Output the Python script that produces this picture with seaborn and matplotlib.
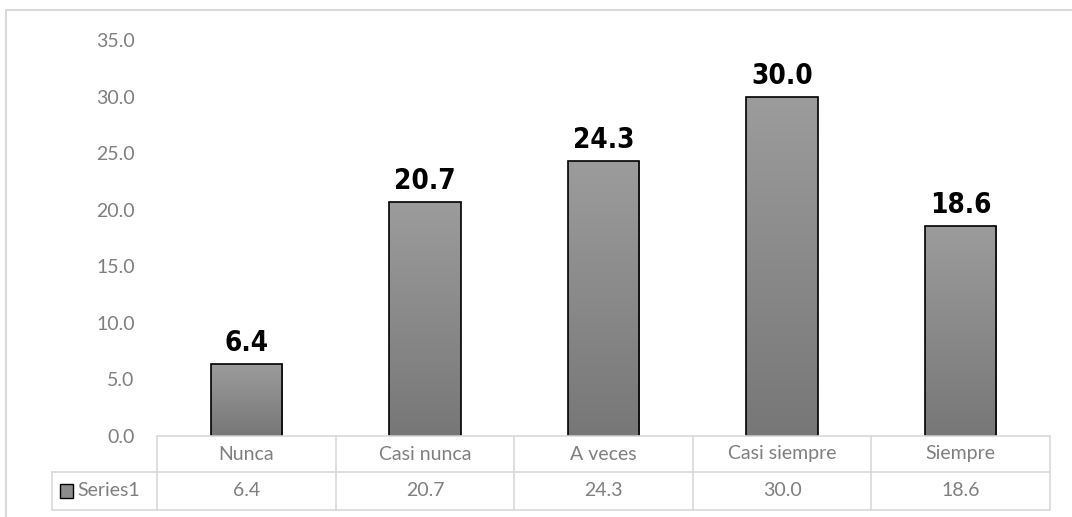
import numpy as np
import pandas as pd
import matplotlib.pyplot as plt
import seaborn as sns
from matplotlib.lines import Line2D

# data
categories = ["Nunca", "Casi nunca", "A veces", "Casi siempre", "Siempre"]
values = [6.4, 20.7, 24.3, 30.0, 18.6]
series_name = "Series1"
yticks = [0, 5, 10, 15, 20, 25, 30, 35]

df = pd.DataFrame({"cat": categories, "val": values})

sns.set_style("white")
plt.rcParams["font.family"] = ["Lato", "DejaVu Sans"]

fig = plt.figure(figsize=(10.72, 5.17), dpi=100)
ax = fig.add_axes([157 / 1072, 1 - 436 / 517, (1050 - 157) / 1072, (436 - 40) / 517])

sns.barplot(data=df, x="cat", y="val", color="#8c8c8c", width=0.40,
            edgecolor="black", linewidth=1.2, saturation=1, ax=ax)

# vertical gradient inside each bar, like the excel fill
grad = np.linspace(0, 1, 256).reshape(-1, 1)
cmap = plt.matplotlib.colors.LinearSegmentedColormap.from_list("g", ["#777777", "#9c9c9c"])
for p in ax.patches:
    x0, y0 = p.get_x(), p.get_y()
    w, h = p.get_width(), p.get_height()
    im = ax.imshow(grad, extent=[x0, x0 + w, y0, y0 + h], origin="lower",
                   cmap=cmap, aspect="auto", zorder=p.get_zorder() + 0.1)
    im.set_clip_path(p)
    p.set_facecolor("none")
    p.set_zorder(p.get_zorder() + 0.2)

ax.set_xlim(-0.5, len(categories) - 0.5)
ax.set_ylim(0, 35)
ax.set_yticks(yticks)
ax.set_yticklabels([f"{t:.1f}" for t in yticks], color="#7f7f7f", fontsize=14)
ax.tick_params(axis="y", length=0, pad=16)
ax.set_xticks([])
ax.set_xlabel("")
ax.set_ylabel("")
for s in ax.spines.values():
    s.set_visible(False)

# value labels (narrow bold, like Arial Narrow)
for i, v in enumerate(values):
    ax.annotate(f"{v:.1f}", (i, v), xytext=(0, 5), textcoords="offset points",
                ha="center", va="bottom", fontsize=20, fontweight="bold",
                fontstretch="condensed", family="DejaVu Sans", color="black")

# data table below the axis
trans = ax.get_xaxis_transform()
row1 = -(472 - 436) / 396
row2 = -(510 - 436) / 396
lc = "#d9d9d9"
n = len(categories)
ax.add_line(Line2D([-0.5, n - 0.5], [0, 0], transform=trans, color=lc, lw=1.2, clip_on=False))
left_col = -0.5 - (157 - 52) / 178.6
for yy in (row1, row2):
    ax.add_line(Line2D([left_col, n - 0.5], [yy, yy], transform=trans, color=lc, lw=1.2, clip_on=False))
for k in range(n + 1):
    ax.add_line(Line2D([k - 0.5, k - 0.5], [0, row2], transform=trans, color=lc, lw=1.2, clip_on=False))
ax.add_line(Line2D([left_col, left_col], [row1, row2], transform=trans, color=lc, lw=1.2, clip_on=False))

for i, (c, v) in enumerate(zip(categories, values)):
    ax.text(i, row1 / 2, c, transform=trans, ha="center", va="center",
            fontsize=14, color="#7f7f7f")
    ax.text(i, (row1 + row2) / 2, f"{v:.1f}", transform=trans, ha="center",
            va="center", fontsize=14, color="#7f7f7f")

# legend key in the table
ax.text(left_col + 25 / 178.6, (row1 + row2) / 2, series_name,
        transform=trans, ha="left", va="center", fontsize=14, color="#7f7f7f")
key_x = left_col + 8 / 178.6
ax.add_patch(plt.Rectangle((key_x, (row1 + row2) / 2 - 0.017), 13 / 178.6, 0.034,
                           transform=trans, facecolor="#8c8c8c", edgecolor="black",
                           lw=1, clip_on=False))

# outer chart border (top and left visible)
fig.add_artist(Line2D([6 / 1072, 1], [1 - 10 / 517, 1 - 10 / 517], color=lc, lw=1.5))
fig.add_artist(Line2D([6 / 1072, 6 / 1072], [0, 1 - 10 / 517], color=lc, lw=1.5))

fig.savefig("out.png", dpi=100)
